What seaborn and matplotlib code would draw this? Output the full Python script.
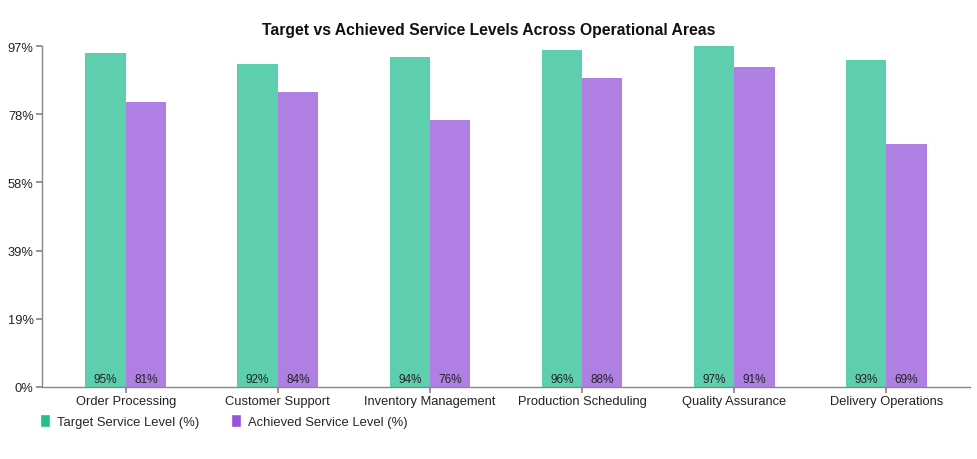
import matplotlib
matplotlib.use("Agg")
import matplotlib.pyplot as plt
import seaborn as sns
import pandas as pd
from matplotlib.patches import Patch

categories = ["Order Processing", "Customer Support", "Inventory Management",
              "Production Scheduling", "Quality Assurance", "Delivery Operations"]
target = [95, 92, 94, 96, 97, 93]
achieved = [81, 84, 76, 88, 91, 69]
series = ["Target Service Level (%)", "Achieved Service Level (%)"]
yticks = [0, 19.4, 38.8, 58.2, 77.6, 97]
ytick_labels = ["0%", "19%", "39%", "58%", "78%", "97%"]

df = pd.DataFrame({
    "Area": categories * 2,
    "Series": [series[0]] * len(categories) + [series[1]] * len(categories),
    "Value": target + achieved,
})

sns.set_theme(style="white")
plt.rcParams["font.family"] = ["Liberation Sans", "DejaVu Sans"]

bar_colors = ["#5ECFAE", "#B07FE3"]
legend_colors = ["#22BE8C", "#9A52DC"]

fig = plt.figure(figsize=(9.77, 4.6), dpi=100)
ax = fig.add_axes([42 / 977, (460 - 388) / 460, (970 - 42) / 977, (388 - 47) / 460])

sns.barplot(data=df, x="Area", y="Value", hue="Series", palette=bar_colors,
            width=0.53, ax=ax, legend=False, saturation=1, linewidth=0)

for cont in ax.containers:
    for bar in cont:
        h = bar.get_height()
        ax.text(bar.get_x() + bar.get_width() / 2, 2.3, f"{h:.0f}%",
                ha="center", va="center", fontsize=8.5, color="#222222")

ax.set_ylim(0, 97)
ax.set_xlim(-0.55, 5.55)
ax.set_yticks(yticks)
ax.set_yticklabels(ytick_labels, fontsize=9.3, color="#222222")
ax.tick_params(axis="x", labelsize=9.3, colors="#222222", length=4, color="#888888", pad=1.5)
ax.tick_params(axis="y", length=4, color="#888888", left=True, pad=2)
ax.tick_params(axis="x", bottom=True)
ax.set_xlabel("")
ax.set_ylabel("")
for s in ["top", "right"]:
    ax.spines[s].set_visible(False)
for s in ["left", "bottom"]:
    ax.spines[s].set_color("#888888")
    ax.spines[s].set_linewidth(1)

fig.text(0.5, 1 - 31 / 460, "Target vs Achieved Service Levels Across Operational Areas",
         ha="center", va="center", fontsize=11.3, fontweight="bold", color="#111111")

handles = [Patch(facecolor=legend_colors[0]), Patch(facecolor=legend_colors[1])]
fig.legend(handles, series, loc="center left", bbox_to_anchor=(40 / 977, 1 - 422 / 460),
           ncol=2, frameon=False, fontsize=9.4, handlelength=0.8, handleheight=1.2,
           handletextpad=0.5, columnspacing=2.4, borderaxespad=0, borderpad=0)

fig.savefig("out.png", dpi=100)
